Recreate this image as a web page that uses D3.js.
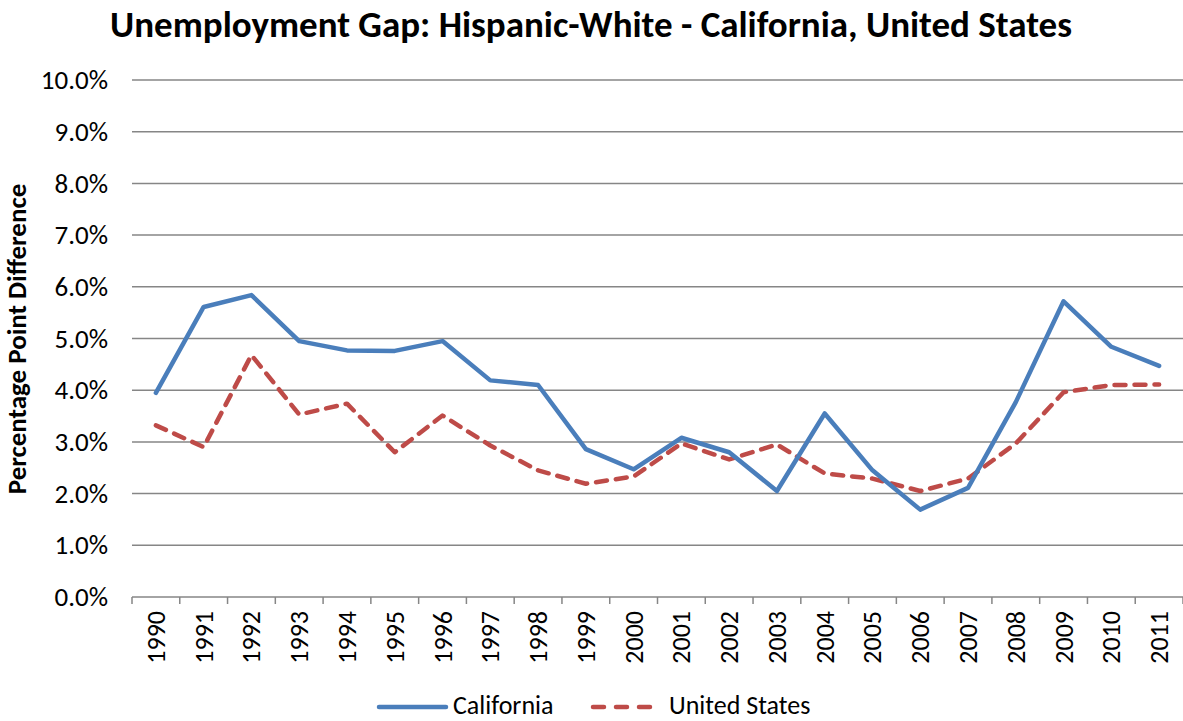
<!DOCTYPE html>
<html>
<head>
<meta charset="utf-8">
<script src="https://cdn.jsdelivr.net/npm/d3@7"></script>
<style>
  html, body { margin: 0; padding: 0; background: #fff; }
  svg { display: block; font-family: Carlito, Calibri, "Open Sans", "Liberation Sans", sans-serif; }
</style>
</head>
<body>
<svg id="chart" width="1183" height="721"></svg>
<script>
// Years on the category axis
const years = ["1990","1991","1992","1993","1994","1995","1996","1997","1998","1999","2000",
               "2001","2002","2003","2004","2005","2006","2007","2008","2009","2010","2011"];

// Hispanic minus White unemployment rate, percentage points
const california = [3.95, 5.61, 5.84, 4.95, 4.77, 4.76, 4.95, 4.19, 4.10, 2.86, 2.47,
                    3.08, 2.80, 2.05, 3.55, 2.45, 1.69, 2.11, 3.77, 5.72, 4.84, 4.47];
const unitedStates = [3.32, 2.90, 4.68, 3.53, 3.74, 2.80, 3.51, 2.93, 2.45, 2.19, 2.33,
                      2.97, 2.66, 2.95, 2.39, 2.29, 2.05, 2.29, 2.97, 3.96, 4.10, 4.11];

const yTicks = [0, 1, 2, 3, 4, 5, 6, 7, 8, 9, 10];

const seriesNames = ["California", "United States"];
const seriesColors = ["#4A7EBB", "#BE4B48"];

const FONT = 'Carlito, Calibri, "Open Sans", "Liberation Sans", sans-serif';

const svg = d3.select("#chart");
const margin = { left: 132, right: 0, top: 80, bottom: 124 };
const W = 1183, H = 721;

const x = d3.scaleBand().domain(years).range([margin.left, W - margin.right]);
const y = d3.scaleLinear().domain([0, 10]).range([597, 80]);

// Title
svg.append("text")
  .attr("x", 591).attr("y", 37)
  .attr("text-anchor", "middle")
  .attr("font-weight", "bold")
  .attr("font-size", 37)
  .attr("fill", "#000")
  .text("Unemployment Gap: Hispanic-White - California, United States");

// Horizontal gridlines
svg.append("g")
  .selectAll("line")
  .data(yTicks.filter(d => d > 0))
  .join("line")
  .attr("x1", margin.left).attr("x2", W)
  .attr("y1", d => y(d)).attr("y2", d => y(d))
  .attr("stroke", "#868686").attr("stroke-width", 1.5);

// Y axis labels
const yAxis = svg.append("g")
  .attr("transform", `translate(${margin.left},0)`)
  .call(d3.axisLeft(y).tickValues(yTicks).tickSize(0).tickPadding(24)
        .tickFormat(d => d3.format(".1f")(d) + "%"));
yAxis.attr("font-family", FONT).attr("font-size", 27);
yAxis.select(".domain").remove();
yAxis.selectAll("text").attr("fill", "#000");

// X axis with ticks between categories
const xAxisG = svg.append("g").attr("transform", `translate(0,${y(0)})`);
xAxisG.append("line")
  .attr("x1", margin.left).attr("x2", W)
  .attr("stroke", "#868686").attr("stroke-width", 1.5);
const boundaries = years.map(d => x(d)).concat([x(years[years.length - 1]) + x.bandwidth()]);
xAxisG.selectAll("line.tk")
  .data(boundaries)
  .join("line")
  .attr("class", "tk")
  .attr("x1", d => d).attr("x2", d => d)
  .attr("y1", 0).attr("y2", 7)
  .attr("stroke", "#868686").attr("stroke-width", 1.5);
xAxisG.selectAll("text")
  .data(years)
  .join("text")
  .attr("transform", d => `translate(${x(d) + x.bandwidth() / 2 + 9},14) rotate(-90)`)
  .attr("text-anchor", "end")
  .attr("font-size", 26)
  .attr("fill", "#000")
  .text(d => d);

// Y axis title
svg.append("text")
  .attr("transform", "translate(26,339) rotate(-90)")
  .attr("text-anchor", "middle")
  .attr("font-weight", "bold")
  .attr("font-size", 27)
  .attr("fill", "#000")
  .text("Percentage Point Difference");

// Lines
const line = d3.line()
  .x((d, i) => x(years[i]) + x.bandwidth() / 2)
  .y(d => y(d));

svg.append("path")
  .datum(unitedStates)
  .attr("d", line)
  .attr("fill", "none")
  .attr("stroke", seriesColors[1])
  .attr("stroke-width", 4.5)
  .attr("stroke-dasharray", "11 9")
  .attr("stroke-linecap", "round")
  .attr("stroke-linejoin", "round");

svg.append("path")
  .datum(california)
  .attr("d", line)
  .attr("fill", "none")
  .attr("stroke", seriesColors[0])
  .attr("stroke-width", 4.5)
  .attr("stroke-linecap", "round")
  .attr("stroke-linejoin", "round");

// Legend
const legend = svg.append("g");
const legendItems = [
  { name: seriesNames[0], color: seriesColors[0], x1: 379, x2: 446, tx: 453, dash: null },
  { name: seriesNames[1], color: seriesColors[1], x1: 593, x2: 654, tx: 669, dash: "11 12" }
];
legendItems.forEach(it => {
  legend.append("line")
    .attr("x1", it.x1).attr("x2", it.x2)
    .attr("y1", 707).attr("y2", 707)
    .attr("stroke", it.color).attr("stroke-width", 4.5)
    .attr("stroke-linecap", "round")
    .attr("stroke-dasharray", it.dash);
  legend.append("text")
    .attr("x", it.tx).attr("y", 714)
    .attr("font-size", 26).attr("fill", "#000")
    .text(it.name);
});
</script>
</body>
</html>
